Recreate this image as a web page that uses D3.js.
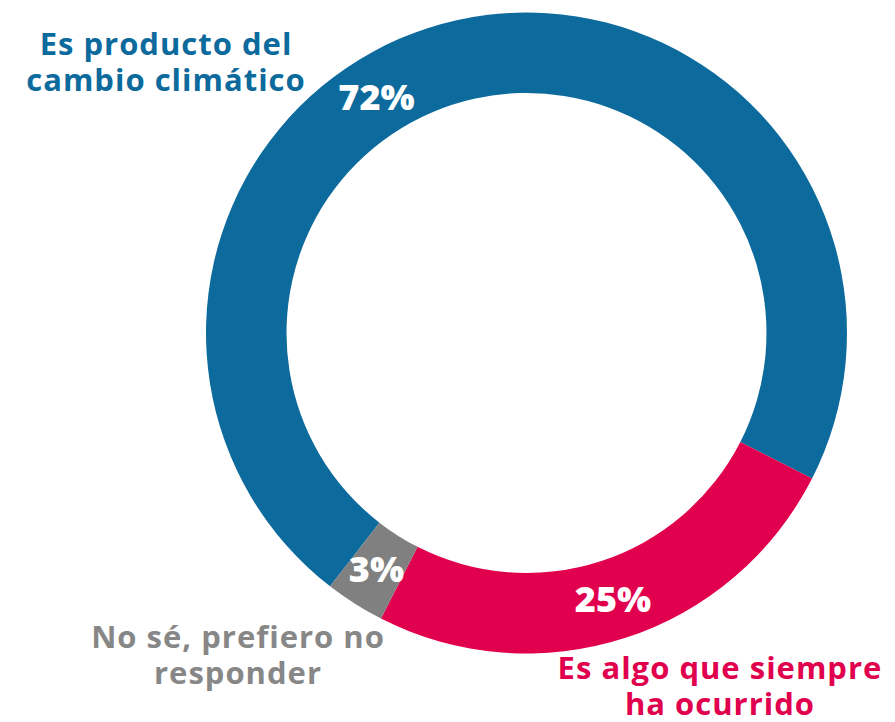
<!DOCTYPE html>
<html>
<head>
<meta charset="utf-8">
<script src="https://cdn.jsdelivr.net/npm/d3@7"></script>
<style>
  html, body { margin: 0; padding: 0; background: #fff; }
  svg { display: block; }
</style>
</head>
<body>
<svg id="chart" width="895" height="722"></svg>
<script>
// ---- data ----
const categories = ["Es producto del cambio climático", "Es algo que siempre ha ocurrido", "No sé, prefiero no responder"];
const values = [72, 25, 3];
const valueLabels = ["72%", "25%", "3%"];
const labelLines = [["Es producto del", "cambio climático"], ["Es algo que siempre", "ha ocurrido"], ["No sé, prefiero no", "responder"]];
const colors = ["#0c6a9c", "#e0004d", "#808080"];
const textColors = ["#0c6a9c", "#e0004d", "#878787"];

// ---- layout ----
const W = 895, H = 722;
const cx = 526.5, cy = 333;
const outerR = 320.5, innerR = 240;
const deg = Math.PI / 180;

const svg = d3.select("#chart");
const g = svg.append("g").attr("transform", `translate(${cx},${cy})`);

const pie = d3.pie().sort(null).value(d => d)
  .startAngle(-142.2 * deg).endAngle(217.8 * deg);
const arcs = pie(values);
const arc = d3.arc().innerRadius(innerR).outerRadius(outerR);
const labelArc = d3.arc().innerRadius(280).outerRadius(280);

g.selectAll("path.slice").data(arcs).join("path")
  .attr("class", "slice")
  .attr("d", arc)
  .attr("fill", (d, i) => colors[i]);

// percentage labels (blue label shifted toward the upper-left)
const labelAngleShift = [-19.8 * deg, 0, 0];
g.selectAll("text.pct").data(arcs).join("text")
  .attr("class", "pct")
  .attr("transform", (d, i) => {
    const a = (d.startAngle + d.endAngle) / 2 + labelAngleShift[i];
    const p = labelArc.centroid({startAngle: a, endAngle: a});
    return `translate(${p[0]},${p[1]})`;
  })
  .attr("text-anchor", "middle")
  .attr("dy", "0.36em")
  .attr("fill", "#fff")
  .style("font-family", "'Open Sans', sans-serif")
  .style("font-weight", 800)
  .style("font-size", "36px")
  .text((d, i) => valueLabels[i]);

// category labels
const catPos = [
  {x: 166, y: 55},
  {x: 720, y: 679},
  {x: 238, y: 648}
];
const lineH = 36;
labelLines.forEach((lines, i) => {
  const t = svg.append("text")
    .attr("x", catPos[i].x)
    .attr("y", catPos[i].y)
    .attr("text-anchor", "middle")
    .attr("fill", textColors[i])
    .style("font-family", "'Open Sans', sans-serif")
    .style("font-weight", 700)
    .style("font-size", "31px")
    .style("letter-spacing", "1px");
  lines.forEach((ln, j) => {
    t.append("tspan").attr("x", catPos[i].x).attr("y", catPos[i].y + j * lineH).text(ln);
  });
});
</script>
</body>
</html>
